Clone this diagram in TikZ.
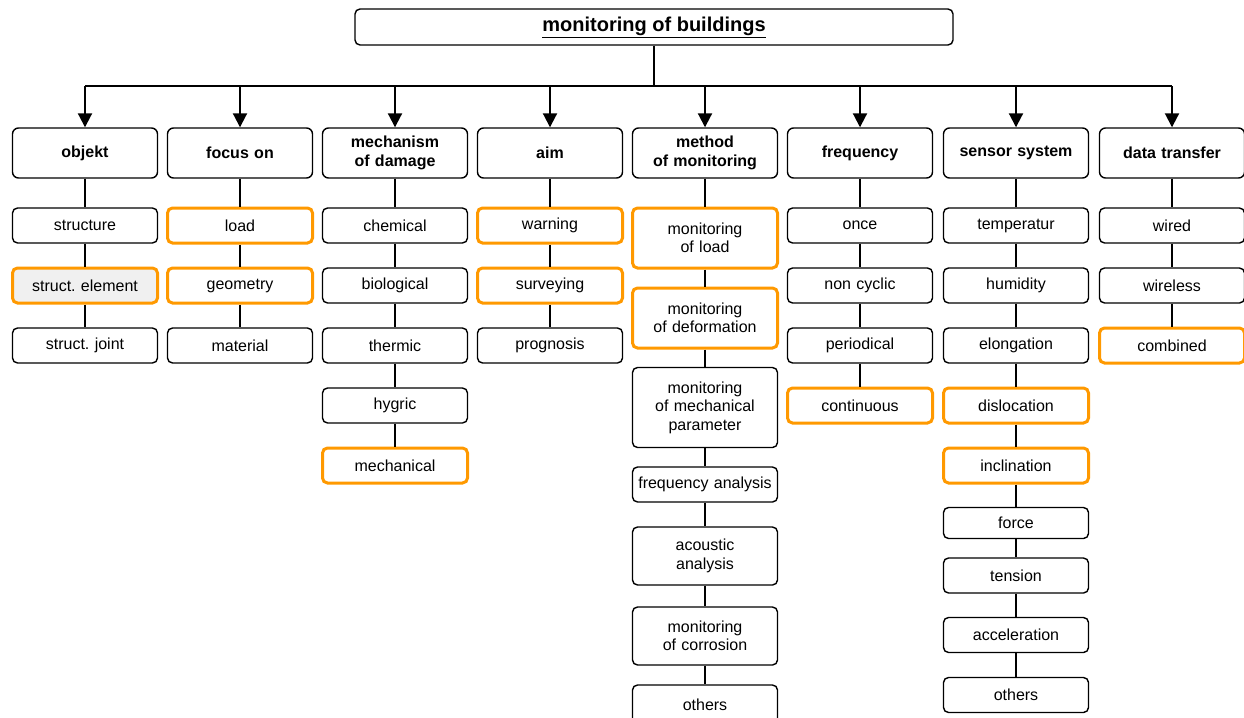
\documentclass[tikz,border=0pt]{standalone}
\usepackage{fontspec}
\setmainfont{Liberation Sans}
\usepackage{tikz}
\usetikzlibrary{arrows.meta, calc}
\definecolor{hotorange}{RGB}{255,153,0}
\tikzstyle{titlebox} = [rectangle, draw, line width=1.4pt, rounded corners=5pt, minimum width=598pt, minimum height=36pt, font=\fontsize{20}{23}\selectfont\bfseries]
\tikzstyle{head} = [rectangle, draw, line width=1.4pt, rounded corners=6pt, text width=140pt, text centered, inner sep=0pt, minimum width=145pt, minimum height=50pt, font=\fontsize{16}{19}\selectfont\bfseries]
\tikzstyle{block} = [rectangle, draw, line width=1.4pt, rounded corners=5pt, text width=140pt, text centered, inner sep=0pt, minimum width=145pt, minimum height=35pt, font=\fontsize{16}{18.5}\selectfont]
\tikzstyle{hot} = [draw=hotorange, line width=3pt]
\tikzstyle{line} = [draw, line width=2pt]
\tikzstyle{arrow} = [draw, line width=2pt, -{Triangle[length=14pt,width=14pt]}]
\begin{document}
\frenchspacing
\begin{tikzpicture}[x=1pt,y=1pt,node distance=60pt]
    \useasboundingbox (0,0) rectangle (1244,-717);
    % Place nodes
    \node [titlebox] (top) at (654,-27) {\underline{monitoring of buildings}};
    \node [head] (obj) at (85,-153) {objekt};
    \node [head, right of=obj, node distance=155pt] (focus) {focus on};
    \node [head, right of=focus, node distance=155pt] (damage) {mechanism\\of damage};
    \node [head, right of=damage, node distance=155pt] (aim) {aim};
    \node [head, right of=aim, node distance=155pt] (method) {method\\of monitoring};
    \node [head, right of=method, node distance=155pt] (freq) {frequency};
    \node [head, right of=freq, node distance=156pt] (sensor) {sensor system};
    \node [head, right of=sensor, node distance=156pt] (data) {data transfer};
    % objekt
    \node [block, below of=obj, node distance=72.5pt] (structure) {structure};
    \node [block, hot, fill=black!6, below of=structure] (element) {struct. element};
    \node [block, below of=element] (joint) {struct. joint};
    % focus on
    \node [block, hot, below of=focus, node distance=72.5pt] (load) {load};
    \node [block, hot, below of=load] (geometry) {geometry};
    \node [block, below of=geometry] (material) {material};
    % mechanism of damage
    \node [block, below of=damage, node distance=72.5pt] (chemical) {chemical};
    \node [block, below of=chemical] (biological) {biological};
    \node [block, below of=biological] (thermic) {thermic};
    \node [block, below of=thermic] (hygric) {hygric};
    \node [block, hot, below of=hygric] (mechanical) {mechanical};
    % aim
    \node [block, hot, below of=aim, node distance=72.5pt] (warning) {warning};
    \node [block, hot, below of=warning] (surveying) {surveying};
    \node [block, below of=surveying] (prognosis) {prognosis};
    % method of monitoring
    \node [block, hot, minimum height=60pt, below of=method, node distance=85pt] (mload) {monitoring\\of load};
    \node [block, hot, minimum height=60pt, below of=mload, node distance=80pt] (mdef) {monitoring\\of deformation};
    \node [block, minimum height=80pt, below of=mdef, node distance=89.5pt] (mpar) {monitoring\\of mechanical\\parameter};
    \node [block, below of=mpar, node distance=77pt] (fana) {frequency analysis};
    \node [block, minimum height=58pt, below of=fana, node distance=71.5pt] (acoustic) {acoustic\\analysis};
    \node [block, minimum height=58pt, below of=acoustic, node distance=80pt] (corrosion) {monitoring\\of corrosion};
    \node [block, minimum height=40pt, below of=corrosion, node distance=69pt] (mothers) {others\\[4pt]};
    % frequency
    \node [block, below of=freq, node distance=72.5pt] (once) {once};
    \node [block, below of=once] (noncyclic) {non cyclic};
    \node [block, below of=noncyclic] (periodical) {periodical};
    \node [block, hot, below of=periodical] (continuous) {continuous};
    % sensor system
    \node [block, below of=sensor, node distance=72.5pt] (temp) {temperatur};
    \node [block, below of=temp] (humidity) {humidity};
    \node [block, below of=humidity] (elongation) {elongation};
    \node [block, hot, below of=elongation] (dislocation) {dislocation};
    \node [block, hot, below of=dislocation] (inclination) {inclination};
    \node [block, minimum height=31pt, below of=inclination, node distance=57.5pt] (force) {force};
    \node [block, below of=force, node distance=52.5pt] (tension) {tension};
    \node [block, below of=tension, node distance=59.5pt] (accel) {acceleration};
    \node [block, below of=accel] (sothers) {others};
    % data transfer
    \node [block, below of=data, node distance=72.5pt] (wired) {wired};
    \node [block, below of=wired] (wireless) {wireless};
    \node [block, hot, below of=wireless] (combined) {combined};
    % Draw edges
    \coordinate (bus) at (654,-86);
    \path [line] (top) -- (bus);
    \path [line] (obj |- bus) -- (data |- bus);
    \path [arrow] (obj |- bus) -- (obj);
    \path [arrow] (focus |- bus) -- (focus);
    \path [arrow] (damage |- bus) -- (damage);
    \path [arrow] (aim |- bus) -- (aim);
    \path [arrow] (method |- bus) -- (method);
    \path [arrow] (freq |- bus) -- (freq);
    \path [arrow] (sensor |- bus) -- (sensor);
    \path [arrow] (data |- bus) -- (data);
    \path [line] (obj) -- (structure);
    \path [line] (structure) -- (element);
    \path [line] (element) -- (joint);
    \path [line] (focus) -- (load);
    \path [line] (load) -- (geometry);
    \path [line] (geometry) -- (material);
    \path [line] (damage) -- (chemical);
    \path [line] (chemical) -- (biological);
    \path [line] (biological) -- (thermic);
    \path [line] (thermic) -- (hygric);
    \path [line] (hygric) -- (mechanical);
    \path [line] (aim) -- (warning);
    \path [line] (warning) -- (surveying);
    \path [line] (surveying) -- (prognosis);
    \path [line] (method) -- (mload);
    \path [line] (mload) -- (mdef);
    \path [line] (mdef) -- (mpar);
    \path [line] (mpar) -- (fana);
    \path [line] (fana) -- (acoustic);
    \path [line] (acoustic) -- (corrosion);
    \path [line] (corrosion) -- (mothers);
    \path [line] (freq) -- (once);
    \path [line] (once) -- (noncyclic);
    \path [line] (noncyclic) -- (periodical);
    \path [line] (periodical) -- (continuous);
    \path [line] (sensor) -- (temp);
    \path [line] (temp) -- (humidity);
    \path [line] (humidity) -- (elongation);
    \path [line] (elongation) -- (dislocation);
    \path [line] (dislocation) -- (inclination);
    \path [line] (inclination) -- (force);
    \path [line] (force) -- (tension);
    \path [line] (tension) -- (accel);
    \path [line] (accel) -- (sothers);
    \path [line] (data) -- (wired);
    \path [line] (wired) -- (wireless);
    \path [line] (wireless) -- (combined);
\end{tikzpicture}
\end{document}
